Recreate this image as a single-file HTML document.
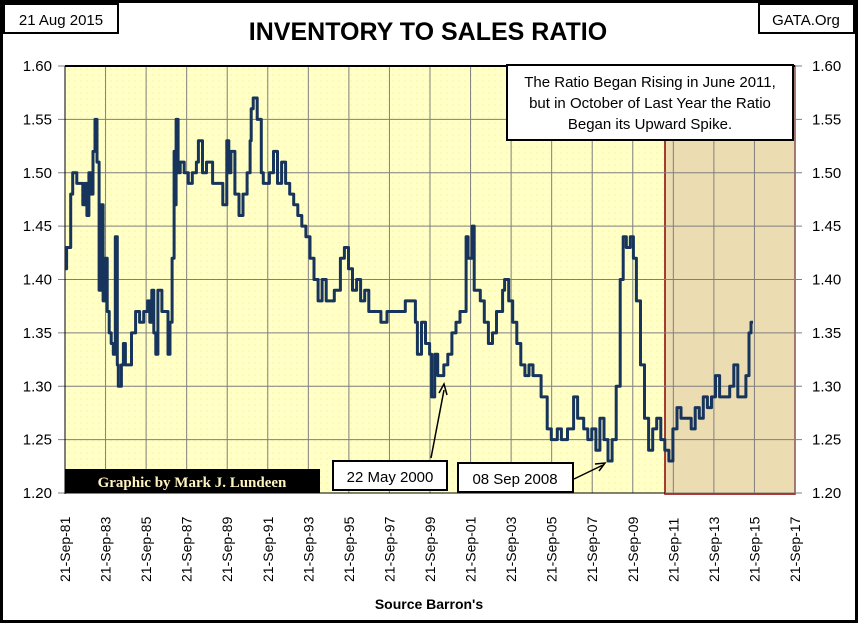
<!DOCTYPE html>
<html><head><meta charset="utf-8"><style>
body{margin:0;background:#fff}
svg{display:block;font-family:"Liberation Sans",sans-serif}
</style></head><body>
<svg width="858" height="623" viewBox="0 0 858 623">
<defs>
<pattern id="dots" width="6" height="6" patternUnits="userSpaceOnUse"><rect width="6" height="6" fill="#FFFFC6"/><circle cx="3" cy="3" r="0.6" fill="#F2EE90"/></pattern>
</defs>
<rect x="1.5" y="1.5" width="855" height="620" fill="#fff" stroke="#000" stroke-width="3"/>
<rect x="65" y="66" width="730" height="427" fill="url(#dots)"/>
<rect x="665" y="66" width="130" height="428" fill="#EBDCB2" stroke="#8B0000" stroke-width="1.5"/>
<g id="grid"></g>
<line x1="65" y1="66" x2="795" y2="66" stroke="#000" stroke-width="2"/>
<line x1="65" y1="66" x2="65" y2="494" stroke="#000" stroke-width="1"/>
<line x1="65" y1="493" x2="665" y2="493" stroke="#000" stroke-width="1"/>
<g id="ylabels"></g>
<g id="xlabels"></g>
<path id="series" fill="none" stroke="#17345C" stroke-width="3" stroke-linejoin="round"/>
<rect x="65" y="469" width="255" height="24" fill="#000"/>
<text x="192" y="487" text-anchor="middle" font-family="Liberation Serif,serif" font-weight="bold" font-size="15" fill="#FFF3C0">Graphic by Mark J. Lundeen</text>
<rect x="4" y="4" width="114" height="29" fill="#fff" stroke="#000" stroke-width="2"/>
<text x="61" y="25" text-anchor="middle" font-size="15">21 Aug 2015</text>
<rect x="759" y="4" width="95" height="29" fill="#fff" stroke="#000" stroke-width="2"/>
<text x="806" y="25" text-anchor="middle" font-size="15">GATA.Org</text>
<text x="428" y="40" text-anchor="middle" font-size="25" font-weight="bold">INVENTORY TO SALES RATIO</text>
<rect x="507" y="65" width="286" height="75" fill="#fff" stroke="#000" stroke-width="2"/>
<text text-anchor="middle" font-size="15"><tspan x="650" y="87">The Ratio Began Rising in June 2011,</tspan><tspan x="650" y="108">but in October of Last Year the Ratio</tspan><tspan x="650" y="129">Began its Upward Spike.</tspan></text>
<rect x="333" y="461" width="114" height="29" fill="#fff" stroke="#000" stroke-width="2"/>
<text x="390" y="482" text-anchor="middle" font-size="15">22 May 2000</text>
<line x1="431" y1="458" x2="444" y2="390" stroke="#000" stroke-width="1.5"/>
<path d="M439,393 L444,384 L447,395" fill="none" stroke="#000" stroke-width="1.5"/>
<rect x="458" y="463" width="115" height="29" fill="#fff" stroke="#000" stroke-width="2"/>
<text x="515" y="484" text-anchor="middle" font-size="15">08 Sep 2008</text>
<line x1="574" y1="479" x2="603" y2="465" stroke="#000" stroke-width="1.5"/>
<path d="M595,464 L605,463 L599,471" fill="none" stroke="#000" stroke-width="1.5"/>
<text x="429" y="609" text-anchor="middle" font-size="14" font-weight="bold">Source Barron's</text>
</svg>
<script>
const years=[1981.75,1981.8,1982.0,1982.1,1982.3,1982.5,1982.6,1982.7,1982.8,1982.9,1983.0,1983.1,1983.2,1983.3,1983.4,1983.5,1983.6,1983.7,1983.8,1983.9,1984.0,1984.1,1984.2,1984.3,1984.35,1984.5,1984.6,1984.7,1984.9,1985.0,1985.2,1985.4,1985.6,1985.8,1985.9,1986.0,1986.1,1986.2,1986.3,1986.5,1986.8,1986.9,1987.0,1987.1,1987.15,1987.2,1987.3,1987.4,1987.6,1987.8,1988.0,1988.2,1988.3,1988.5,1988.7,1989.0,1989.3,1989.5,1989.7,1989.8,1989.9,1990.1,1990.3,1990.5,1990.7,1990.85,1990.9,1991.0,1991.2,1991.4,1991.5,1991.8,1992.0,1992.2,1992.4,1992.6,1992.8,1993.0,1993.2,1993.4,1993.6,1993.8,1994.0,1994.2,1994.4,1994.6,1994.8,1995.0,1995.3,1995.5,1995.7,1995.9,1996.1,1996.3,1996.5,1996.7,1997.0,1997.3,1997.6,1997.9,1998.2,1998.5,1998.9,1999.0,1999.1,1999.3,1999.5,1999.7,1999.8,1999.95,2000.1,2000.4,2000.6,2000.8,2001.0,2001.2,2001.5,2001.6,2001.8,2001.9,2002.2,2002.4,2002.6,2002.8,2003.0,2003.3,2003.4,2003.6,2003.8,2004.0,2004.2,2004.4,2004.6,2004.8,2005.0,2005.2,2005.5,2005.7,2006.0,2006.2,2006.5,2006.8,2007.0,2007.3,2007.5,2007.7,2007.9,2008.1,2008.3,2008.5,2008.7,2008.9,2009.1,2009.25,2009.4,2009.6,2009.75,2009.9,2010.1,2010.3,2010.5,2010.7,2010.9,2011.1,2011.3,2011.5,2011.7,2011.9,2012.1,2012.4,2012.6,2012.8,2013.0,2013.2,2013.4,2013.6,2013.8,2014.0,2014.2,2014.5,2014.7,2014.9,2015.1,2015.3,2015.45,2015.55,2015.65];
const ratios=[1.41,1.43,1.48,1.50,1.49,1.49,1.47,1.49,1.46,1.50,1.48,1.52,1.55,1.51,1.39,1.47,1.38,1.42,1.37,1.35,1.34,1.33,1.44,1.32,1.30,1.32,1.34,1.32,1.32,1.35,1.37,1.36,1.37,1.38,1.36,1.39,1.35,1.33,1.39,1.37,1.33,1.36,1.42,1.52,1.47,1.55,1.50,1.51,1.50,1.49,1.50,1.51,1.53,1.50,1.51,1.49,1.49,1.47,1.53,1.50,1.52,1.48,1.46,1.48,1.50,1.53,1.56,1.57,1.55,1.50,1.49,1.50,1.52,1.49,1.51,1.49,1.48,1.47,1.46,1.45,1.44,1.42,1.40,1.38,1.40,1.38,1.38,1.39,1.42,1.43,1.41,1.39,1.40,1.38,1.39,1.37,1.37,1.36,1.37,1.37,1.37,1.38,1.38,1.36,1.33,1.36,1.34,1.33,1.29,1.33,1.31,1.32,1.33,1.35,1.36,1.37,1.44,1.42,1.45,1.39,1.38,1.36,1.34,1.35,1.37,1.39,1.40,1.38,1.36,1.34,1.32,1.31,1.32,1.31,1.31,1.29,1.26,1.25,1.26,1.25,1.26,1.29,1.27,1.26,1.25,1.26,1.24,1.27,1.25,1.23,1.25,1.30,1.40,1.44,1.43,1.44,1.42,1.38,1.32,1.27,1.24,1.26,1.27,1.25,1.24,1.23,1.26,1.28,1.27,1.27,1.26,1.28,1.27,1.29,1.28,1.29,1.31,1.29,1.29,1.30,1.32,1.29,1.29,1.31,1.35,1.36,1.36];
const yTicks=[1.20,1.25,1.30,1.35,1.40,1.45,1.50,1.55,1.60];
const xTickYears=[81,83,85,87,89,91,93,95,97,99,1,3,5,7,9,11,13,15,17];
const X0=65,X1=795,Y0=493,Y1=66,YR0=1981.72,YR1=2017.72,V0=1.20,V1=1.60;
const xs=y=>X0+(y-YR0)/(YR1-YR0)*(X1-X0);
const ys=v=>Y0-(v-V0)/(V1-V0)*(Y0-Y1);
const NS='http://www.w3.org/2000/svg';
const grid=document.getElementById('grid'),yl=document.getElementById('ylabels'),xl=document.getElementById('xlabels');
yTicks.forEach(v=>{
 const y=ys(v);
 const l=document.createElementNS(NS,'line');
 
 
 l.setAttribute('x1',58);l.setAttribute('x2',802);l.setAttribute('y1',y);l.setAttribute('y2',y);
 l.setAttribute('stroke','#7f7f7f');l.setAttribute('stroke-width','1');grid.appendChild(l);
 [[52,'end'],[812,'start']].forEach(([x,a])=>{
  const t=document.createElementNS(NS,'text');
  
  
  t.setAttribute('x',x);t.setAttribute('y',y+5);t.setAttribute('text-anchor',a);t.setAttribute('font-size','15');
  t.textContent=v.toFixed(2);yl.appendChild(t);
 });
});
xTickYears.forEach((yy,i)=>{
 const yr=1981.72+i*2;const x=xs(yr);
 const l=document.createElementNS(NS,'line');
 
 
 l.setAttribute('x1',x);l.setAttribute('x2',x);l.setAttribute('y1',Y1);l.setAttribute('y2',Y0);
 l.setAttribute('stroke','#7f7f7f');l.setAttribute('stroke-width','1');grid.appendChild(l);
 const t=document.createElementNS(NS,'text');
 
 
 t.setAttribute('transform','translate('+(x+5)+',582) rotate(-90)');t.setAttribute('font-size','14');
 t.textContent='21-Sep-'+String(yy).padStart(2,'0');xl.appendChild(t);
});
let d='';
years.forEach((yr,i)=>{
 const x=xs(yr).toFixed(1),y=ys(ratios[i]).toFixed(1);
 if(i===0)d+='M'+x+','+y;else d+='H'+x+'V'+y;
});
document.getElementById('series').setAttribute('d',d);
</script>
</body></html>
